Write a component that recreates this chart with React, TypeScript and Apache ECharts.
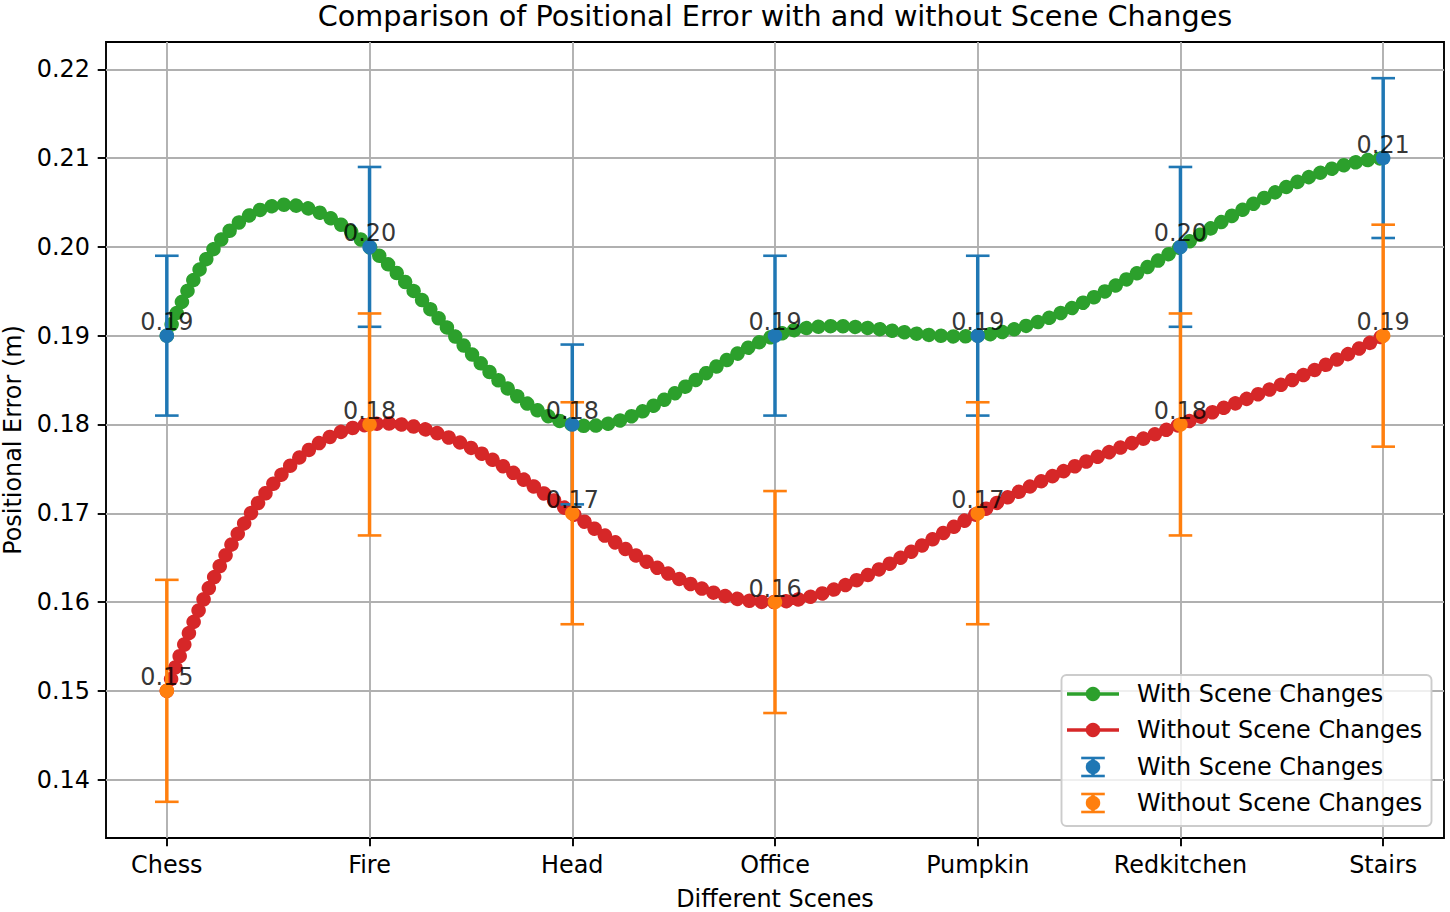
import React, { useEffect, useRef } from 'react';
import * as echarts from 'echarts';

// ---------- data ----------
const categories = ['Chess', 'Fire', 'Head', 'Office', 'Pumpkin', 'Redkitchen', 'Stairs'];
const withScene = [0.19, 0.2, 0.18, 0.19, 0.19, 0.2, 0.21];
const withoutScene = [0.15, 0.18, 0.17, 0.16, 0.17, 0.18, 0.19];
const withErr = [0.009, 0.009, 0.009, 0.009, 0.009, 0.009, 0.009];
const withoutErr = [0.0125, 0.0125, 0.0125, 0.0125, 0.0125, 0.0125, 0.0125];
const xTicks = [0, 1, 2, 3, 4, 5, 6];
const yTicks = [0.14, 0.15, 0.16, 0.17, 0.18, 0.19, 0.2, 0.21, 0.22];

const TITLE = 'Comparison of Positional Error with and without Scene Changes';
const X_NAME = 'Different Scenes';
const Y_NAME = 'Positional Error (m)';
const LEGEND_NAMES = ['With Scene Changes', 'Without Scene Changes', 'With Scene Changes', 'Without Scene Changes'];

// ---------- style ----------
const FONT = 'DejaVu Sans';
const FS = 23.9;
const GREEN = '#2ca02c';
const RED = '#d62728';
const BLUE = '#1f77b4';
const ORANGE = '#ff7f0e';

// custom shape: a chain of cubic bezier segments
const SplineShape = (echarts as any).graphic.extendShape({
  type: 'splineCurve',
  shape: { segs: [] as number[][] },
  buildPath(ctx: any, shape: any) {
    const s = shape.segs;
    if (!s || !s.length) return;
    ctx.moveTo(s[0][0], s[0][1]);
    for (const g of s) ctx.bezierCurveTo(g[2], g[3], g[4], g[5], g[6], g[7]);
  },
});
(echarts as any).graphic.registerShape('splineCurve', SplineShape);

// not-a-knot cubic spline through (i, ys[i]) expressed as bezier segments in data space
function splineSegments(ys: number[]) {
  const n = ys.length;
  const A = Array.from({ length: n }, () => new Array(n).fill(0));
  const b = new Array(n).fill(0);
  A[0][0] = 1; A[0][1] = -2; A[0][2] = 1;
  for (let i = 1; i < n - 1; i++) {
    A[i][i - 1] = 1; A[i][i] = 4; A[i][i + 1] = 1;
    b[i] = 6 * (ys[i + 1] - 2 * ys[i] + ys[i - 1]);
  }
  A[n - 1][n - 3] = 1; A[n - 1][n - 2] = -2; A[n - 1][n - 1] = 1;
  for (let c = 0; c < n; c++) {
    let p = c;
    for (let r = c + 1; r < n; r++) if (Math.abs(A[r][c]) > Math.abs(A[p][c])) p = r;
    [A[c], A[p]] = [A[p], A[c]];
    [b[c], b[p]] = [b[p], b[c]];
    for (let r = c + 1; r < n; r++) {
      const f = A[r][c] / A[c][c];
      if (!f) continue;
      for (let k = c; k < n; k++) A[r][k] -= f * A[c][k];
      b[r] -= f * b[c];
    }
  }
  const M = new Array(n).fill(0);
  for (let r = n - 1; r >= 0; r--) {
    let s = b[r];
    for (let k = r + 1; k < n; k++) s -= A[r][k] * M[k];
    M[r] = s / A[r][r];
  }
  const segs: number[][] = [];
  for (let i = 0; i < n - 1; i++) {
    const d = ys[i + 1] - ys[i];
    const m0 = d - (2 * M[i] + M[i + 1]) / 6;
    const m1 = d + (M[i] + 2 * M[i + 1]) / 6;
    segs.push([i, ys[i], i + 1 / 3, ys[i] + m0 / 3, i + 2 / 3, ys[i + 1] - m1 / 3, i + 1, ys[i + 1]]);
  }
  return segs;
}

function splineSeries(name: string, ys: number[], color: string) {
  const segs = splineSegments(ys);
  return {
    type: 'custom',
    name,
    silent: true,
    data: ys.map((v, i) => [i, v]),
    renderItem: (params: any, api: any) => {
      if (params.dataIndex !== 0) return null;
      const pts = segs.map((s) => {
        const p0 = api.coord([s[0], s[1]]);
        const c1 = api.coord([s[2], s[3]]);
        const c2 = api.coord([s[4], s[5]]);
        const p1 = api.coord([s[6], s[7]]);
        return [p0[0], p0[1], c1[0], c1[1], c2[0], c2[1], p1[0], p1[1]];
      });
      return {
        type: 'group',
        children: [
          { type: 'splineCurve', shape: { segs: pts }, style: { fill: 'none', stroke: color, lineWidth: 3.5 } },
          {
            type: 'splineCurve',
            shape: { segs: pts },
            style: { fill: 'none', stroke: color, lineWidth: 14.5, lineDash: [0.01, 12.3], lineCap: 'round' },
          },
        ],
      };
    },
  };
}

function errorSeries(ys: number[], errs: number[], color: string) {
  return {
    type: 'custom',
    silent: true,
    data: ys.map((v, i) => [i, v, errs[i]]),
    renderItem: (params: any, api: any) => {
      const x = api.value(0);
      const y = api.value(1);
      const e = api.value(2);
      const top = api.coord([x, y + e]);
      const bot = api.coord([x, y - e]);
      const hw = 11.8;
      return {
        type: 'group',
        children: [
          { type: 'line', shape: { x1: top[0], y1: top[1], x2: bot[0], y2: bot[1] }, style: { stroke: color, lineWidth: 3.5 } },
          { type: 'line', shape: { x1: top[0] - hw, y1: top[1], x2: top[0] + hw, y2: top[1] }, style: { stroke: color, lineWidth: 2.6 } },
          { type: 'line', shape: { x1: bot[0] - hw, y1: bot[1], x2: bot[0] + hw, y2: bot[1] }, style: { stroke: color, lineWidth: 2.6 } },
        ],
      };
    },
  };
}

function markerSeries(ys: number[], color: string) {
  return {
    type: 'scatter',
    silent: true,
    symbol: 'circle',
    symbolSize: 14.5,
    itemStyle: { color, opacity: 1 },
    data: ys.map((v, i) => [i, v]),
  };
}

function labelSeries(ys: number[]) {
  return {
    type: 'scatter',
    silent: true,
    symbol: 'circle',
    symbolSize: 1,
    itemStyle: { color: 'rgba(0,0,0,0)' },
    z: 20,
    label: {
      show: true,
      position: 'top',
      distance: 1,
      fontSize: FS,
      lineHeight: 24,
      fontFamily: FONT,
      color: '#000',
      formatter: (p: any) => Number(p.value[1]).toFixed(2),
    },
    data: ys.map((v, i) => [i, v]),
  };
}

function legendGraphic() {
  const rows = [694, 730, 767, 803];
  const hx = 1093;
  const Z = 100;
  const children: any[] = [
    {
      type: 'rect',
      z: Z,
      shape: { x: 1061.5, y: 675, width: 370, height: 151, r: 5 },
      style: { fill: 'rgba(255,255,255,0.8)', stroke: '#cccccc', lineWidth: 1.9 },
    },
  ];
  const lineColors = [GREEN, RED];
  lineColors.forEach((c, i) => {
    const y = rows[i];
    children.push({ type: 'line', z: Z + 1, shape: { x1: 1067, y1: y, x2: 1119, y2: y }, style: { stroke: c, lineWidth: 3.5 } });
    children.push({ type: 'circle', z: Z + 2, shape: { cx: hx, cy: y, r: 7.25 }, style: { fill: c } });
  });
  const errColors = [BLUE, ORANGE];
  errColors.forEach((c, i) => {
    const y = rows[i + 2];
    children.push({ type: 'line', z: Z + 1, shape: { x1: hx, y1: y - 9, x2: hx, y2: y + 9 }, style: { stroke: c, lineWidth: 3.5 } });
    children.push({ type: 'line', z: Z + 1, shape: { x1: hx - 11.8, y1: y - 9, x2: hx + 11.8, y2: y - 9 }, style: { stroke: c, lineWidth: 2.6 } });
    children.push({ type: 'line', z: Z + 1, shape: { x1: hx - 11.8, y1: y + 9, x2: hx + 11.8, y2: y + 9 }, style: { stroke: c, lineWidth: 2.6 } });
    children.push({ type: 'circle', z: Z + 2, shape: { cx: hx, cy: y, r: 7.25 }, style: { fill: c } });
  });
  LEGEND_NAMES.forEach((t, i) => {
    children.push({
      type: 'text',
      z: Z + 3,
      x: 1137,
      y: rows[i],
      style: { text: t, fontSize: FS, fontFamily: FONT, fill: '#000', textAlign: 'left', textVerticalAlign: 'middle' },
    });
  });
  return { type: 'group', z: Z, children };
}

export default function App() {
  const ref = useRef<HTMLDivElement>(null);
  useEffect(() => {
    if (!ref.current) return;
    const chart = echarts.init(ref.current, undefined, { renderer: 'svg' });
    const option: any = {
      animation: false,
      backgroundColor: '#ffffff',
      grid: {
        left: 106,
        top: 42,
        right: 6,
        bottom: 74,
        show: true,
        borderColor: '#000',
        borderWidth: 1.9,
        backgroundColor: 'transparent',
      },
      xAxis: {
        type: 'value',
        min: -0.3,
        max: 6.3,
        minInterval: 1,
        maxInterval: 1,
        axisLine: { show: false, onZero: false },
        axisTick: { show: true, length: 8.3, lineStyle: { color: '#000', width: 1.9 }, customValues: xTicks },
        axisLabel: {
          customValues: xTicks,
          formatter: (v: number) => (Number.isInteger(v) && categories[v] ? categories[v] : ''),
          fontSize: FS,
          fontFamily: FONT,
          color: '#000',
          margin: 15,
        },
        splitLine: { show: true, lineStyle: { color: '#b0b0b0', width: 1.9 } },
      },
      yAxis: {
        type: 'value',
        min: 0.133425,
        max: 0.223075,
        minInterval: 0.01,
        maxInterval: 0.01,
        axisLine: { show: false, onZero: false },
        axisTick: { show: true, length: 8.3, lineStyle: { color: '#000', width: 1.9 }, customValues: yTicks },
        axisLabel: {
          customValues: yTicks,
          formatter: (v: number) => v.toFixed(2),
          fontSize: FS,
          fontFamily: FONT,
          color: '#000',
          margin: 16,
        },
        splitLine: { show: true, lineStyle: { color: '#b0b0b0', width: 1.9 } },
      },
      graphic: [
        {
          type: 'text',
          x: 775,
          y: 16,
          style: { text: TITLE, fontSize: 28.7, fontFamily: FONT, fill: '#000', textAlign: 'center', textVerticalAlign: 'middle' },
        },
        {
          type: 'text',
          x: 775,
          y: 899,
          style: { text: X_NAME, fontSize: FS, fontFamily: FONT, fill: '#000', textAlign: 'center', textVerticalAlign: 'middle' },
        },
        {
          type: 'text',
          x: 13,
          y: 440,
          rotation: Math.PI / 2,
          style: { text: Y_NAME, fontSize: FS, fontFamily: FONT, fill: '#000', textAlign: 'center', textVerticalAlign: 'middle' },
        },
        legendGraphic(),
      ],
      series: [
        splineSeries('With Scene Changes', withScene, GREEN),
        splineSeries('Without Scene Changes', withoutScene, RED),
        errorSeries(withScene, withErr, BLUE),
        markerSeries(withScene, BLUE),
        errorSeries(withoutScene, withoutErr, ORANGE),
        markerSeries(withoutScene, ORANGE),
        labelSeries(withScene),
        labelSeries(withoutScene),
      ],
    };
    chart.setOption(option);
    return () => chart.dispose();
  }, []);
  return <div ref={ref} style={{ position: 'absolute', left: 0, top: 0, width: 1450, height: 912 }} />;
}
